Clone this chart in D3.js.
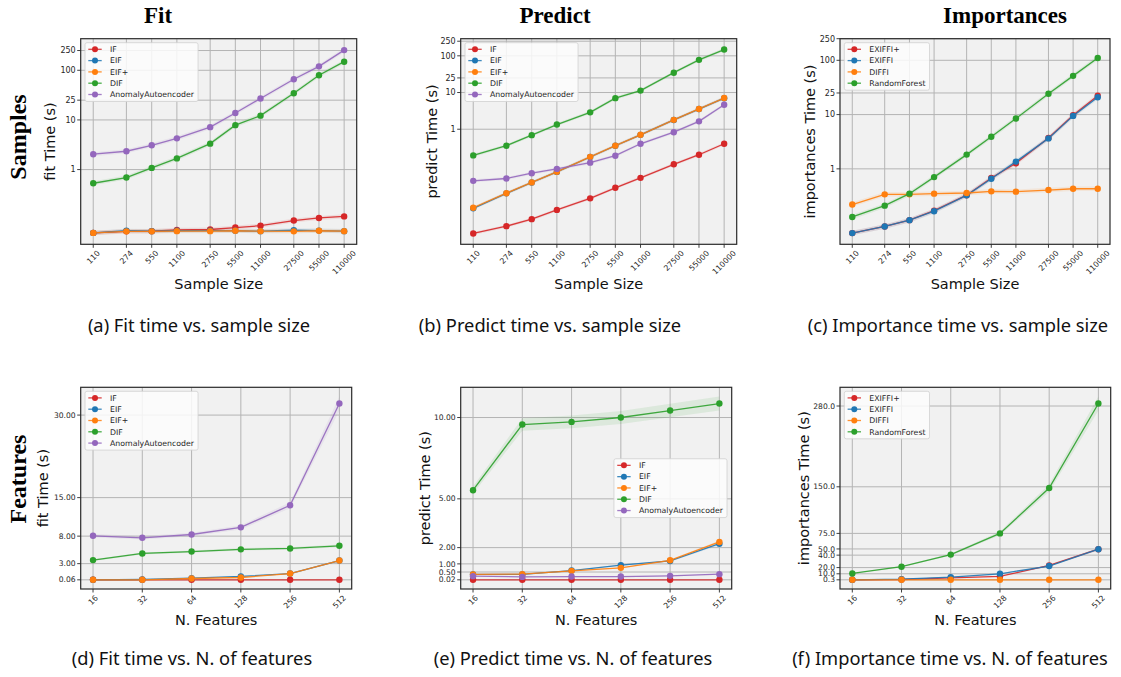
<!DOCTYPE html>
<html><head><meta charset="utf-8">
<script src="https://cdn.jsdelivr.net/npm/d3@7"></script>
<style>body{margin:0;background:#fff} svg{display:block}</style>
</head><body><svg id="c" width="1121" height="677"></svg>
<script>
// ---------------- DATA ----------------
const sampleSizes = [110, 274, 550, 1100, 2750, 5500, 11000, 27500, 55000, 110000];
const featureCounts = [16, 32, 64, 128, 256, 512];
const detectorNames = ["IF", "EIF", "EIF+", "DIF", "AnomalyAutoencoder"];
const importanceNames = ["EXIFFI+", "EXIFFI", "DIFFI", "RandomForest"];

// (a) fit time vs sample size
const fitSamplesIF      = [0.053, 0.057, 0.0575, 0.061, 0.062, 0.068, 0.074, 0.094, 0.106, 0.114];
const fitSamplesEIF     = [0.053, 0.0585, 0.0575, 0.0585, 0.059, 0.0585, 0.0575, 0.060, 0.059, 0.0575];
const fitSamplesEIFplus = [0.053, 0.057, 0.057, 0.0575, 0.0575, 0.0585, 0.0575, 0.057, 0.0585, 0.0575];
const fitSamplesDIF     = [0.53, 0.69, 1.08, 1.68, 3.33, 7.85, 12.2, 34.4, 79.5, 149];
const fitSamplesAE      = [2.04, 2.34, 3.08, 4.25, 7.16, 13.8, 27, 66, 120, 255];

// (b) predict time vs sample size
const predSamplesIF      = [0.00145, 0.00229, 0.00355, 0.00634, 0.0131, 0.0254, 0.0474, 0.111, 0.202, 0.402];
const predSamplesEIF     = [0.0070, 0.0179, 0.0354, 0.0689, 0.175, 0.355, 0.703, 1.79, 3.55, 7.03];
const predSamplesEIFplus = [0.00725, 0.0181, 0.0356, 0.0692, 0.177, 0.357, 0.706, 1.80, 3.57, 7.08];
const predSamplesDIF     = [0.194, 0.355, 0.689, 1.34, 2.88, 7.03, 11.3, 34.7, 77.6, 148];
const predSamplesAE      = [0.0393, 0.0455, 0.0633, 0.083, 0.123, 0.19, 0.402, 0.83, 1.64, 4.64];

// (c) importance time vs sample size
const impSamplesEXIFFIplus = [0.0656, 0.0869, 0.1135, 0.170, 0.327, 0.68, 1.27, 3.70, 9.7, 22.3];
const impSamplesEXIFFI     = [0.0656, 0.0869, 0.1135, 0.166, 0.325, 0.656, 1.36, 3.64, 9.46, 20.8];
const impSamplesDIFFI      = [0.22, 0.339, 0.339, 0.349, 0.359, 0.385, 0.38, 0.407, 0.43, 0.43];
const impSamplesRF         = [0.13, 0.21, 0.349, 0.705, 1.83, 3.9, 8.45, 24.2, 51.7, 110];

// (d) fit time vs n. features
const fitFeatIF      = [0.06, 0.06, 0.06, 0.06, 0.06, 0.06];
const fitFeatEIF     = [0.06, 0.12, 0.36, 0.67, 1.2, 3.57];
const fitFeatEIFplus = [0.06, 0.06, 0.3, 0.48, 1.2, 3.57];
const fitFeatDIF     = [3.64, 4.85, 5.2, 5.6, 5.76, 6.24];
const fitFeatAE      = [8.06, 7.7, 8.3, 9.6, 13.6, 32.1];

// (e) predict time vs n. features
const predFeatIF      = [0.02, 0.02, 0.02, 0.02, 0.02, 0.02];
const predFeatEIF     = [0.35, 0.35, 0.59, 0.92, 1.18, 2.24];
const predFeatEIFplus = [0.35, 0.37, 0.57, 0.755, 1.22, 2.35];
const predFeatDIF     = [5.53, 9.57, 9.73, 10.0, 10.43, 10.86];
const predFeatAE      = [0.245, 0.2, 0.22, 0.22, 0.265, 0.37];

// (f) importance time vs n. features
const impFeatEXIFFIplus = [0.3, 0.8, 3.5, 5.7, 23.6, 49.6];
const impFeatEXIFFI     = [0.3, 1.4, 4.6, 10, 22.5, 49.6];
const impFeatDIFFI      = [0.3, 0.3, 0.3, 0.3, 0.3, 0.3];
const impFeatRF         = [10.6, 21.4, 40.9, 75, 148, 284];

// tick labels
const logTimeTicks  = [1, 10, 25, 100, 250];
const fitFeatTicks  = [0.06, 3, 8, 15, 30];
const predFeatTicks = [0.02, 0.5, 1, 2, 5, 10];
const impFeatTicks  = [0.3, 10, 20, 40, 50, 75, 150, 280];

const columnTitles = ["Fit", "Predict", "Importances"];
const rowTitles = ["Samples", "Features"];
const captions = [
  "(a) Fit time vs. sample size", "(b) Predict time vs. sample size", "(c) Importance time vs. sample size",
  "(d) Fit time vs. N. of features", "(e) Predict time vs. N. of features", "(f) Importance time vs. N. of features"
];

// ---------------- STYLE / LAYOUT ----------------
const detColors = ["#d62728", "#1f77b4", "#ff7f0e", "#2ca02c", "#9467bd"];
const impColors = ["#d62728", "#1f77b4", "#ff7f0e", "#2ca02c"];

const panels = [
  {rect:[80.7, 38.7, 356.7, 244.3], x:sampleSizes, names:detectorNames, colors:detColors,
   series:[fitSamplesIF, fitSamplesEIF, fitSamplesEIFplus, fitSamplesDIF, fitSamplesAE],
   yLog:true, yTicks:logTimeTicks, yFmt:d=>String(d), ylabel:"fit Time (s)", yLabelOff:30.5,
   xlabel:"Sample Size", legend:"ul", caption:0, capX:199},
  {rect:[460.7, 38.7, 736.7, 244.3], x:sampleSizes, names:detectorNames, colors:detColors,
   series:[predSamplesIF, predSamplesEIF, predSamplesEIFplus, predSamplesDIF, predSamplesAE],
   yLog:true, yTicks:logTimeTicks, yFmt:d=>String(d), ylabel:"predict Time (s)", yLabelOff:29,
   xlabel:"Sample Size", legend:"ul", caption:1, capX:550},
  {rect:[840, 38.7, 1110, 244.3], x:sampleSizes, names:importanceNames, colors:impColors,
   series:[impSamplesEXIFFIplus, impSamplesEXIFFI, impSamplesDIFFI, impSamplesRF],
   yLog:true, yTicks:logTimeTicks, yFmt:d=>String(d), ylabel:"importances Time (s)", yLabelOff:30,
   xlabel:"Sample Size", legend:"ul", caption:2, capX:958},
  {rect:[80.7, 387.3, 351.7, 589], x:featureCounts, names:detectorNames, colors:detColors,
   series:[fitFeatIF, fitFeatEIF, fitFeatEIFplus, fitFeatDIF, fitFeatAE],
   yLog:false, yTicks:fitFeatTicks, yFmt:d3.format(".2f"), ylabel:"fit Time (s)", yLabelOff:37.7,
   xlabel:"N. Features", legend:"ul", caption:3, capX:192},
  {rect:[460.7, 387.3, 731.7, 589], x:featureCounts, names:detectorNames, colors:detColors,
   series:[predFeatIF, predFeatEIF, predFeatEIFplus, predFeatDIF, predFeatAE],
   yLog:false, yTicks:predFeatTicks, yFmt:d3.format(".2f"), ylabel:"predict Time (s)", yLabelOff:35.7,
   xlabel:"N. Features", legend:"cr", caption:4, capX:573},
  {rect:[840, 387.3, 1110.7, 589], x:featureCounts, names:importanceNames, colors:impColors,
   series:[impFeatEXIFFIplus, impFeatEXIFFI, impFeatDIFFI, impFeatRF],
   yLog:false, yTicks:impFeatTicks, yFmt:d3.format(".1f"), ylabel:"importances Time (s)", yLabelOff:36.5,
   xlabel:"N. Features", legend:"ul", caption:5, capX:950}
];

const svg = d3.select("#c");
const SANS = "'DejaVu Sans', sans-serif";

panels.forEach((p, pi) => {
  const [L, T, R, B] = p.rect;
  const top = pi < 3;
  const g = svg.append("g");

  // x scale (log, 5% margins in log space)
  const lx0 = Math.log10(d3.min(p.x)), lx1 = Math.log10(d3.max(p.x));
  const mx = (lx1 - lx0) * 0.05;
  const x = d3.scaleLog().domain([10 ** (lx0 - mx), 10 ** (lx1 + mx)]).range([L, R]);

  // bands
  const lowF = v => p.yLog ? v / 1.1 : v * 0.96;
  const upF = v => p.yLog ? v * 1.1 : v * 1.04;
  let all = [];
  p.series.forEach(s => s.forEach(v => { all.push(lowF(v)); all.push(upF(v)); }));
  let y;
  if (p.yLog) {
    let lo = Math.log10(d3.min(all)), hi = Math.log10(d3.max(all));
    const m = (hi - lo) * 0.05; lo -= m; hi += m;
    hi = Math.max(hi, Math.log10(d3.max(p.yTicks)));
    y = d3.scaleLog().domain([10 ** lo, 10 ** hi]).range([B, T]);
  } else {
    let lo = d3.min(all), hi = d3.max(all);
    const m = (hi - lo) * 0.05; lo -= m; hi += m;
    hi = Math.max(hi, d3.max(p.yTicks));
    y = d3.scaleLinear().domain([lo, hi]).range([B, T]);
  }

  // background
  g.append("rect").attr("x", L).attr("y", T).attr("width", R - L).attr("height", B - T).attr("fill", "#f1f1f1");
  // grid
  g.selectAll(".vg").data(p.x).join("line")
    .attr("x1", d => x(d)).attr("x2", d => x(d)).attr("y1", T).attr("y2", B)
    .attr("stroke", "#b4b4b4").attr("stroke-width", 1);
  g.selectAll(".hg").data(p.yTicks).join("line")
    .attr("x1", L).attr("x2", R).attr("y1", d => y(d)).attr("y2", d => y(d))
    .attr("stroke", "#b4b4b4").attr("stroke-width", 1);

  // bands + lines + markers
  p.series.forEach((s, si) => {
    const pts = s.map((v, i) => [p.x[i], v]);
    const area = d3.area().x(d => x(d[0])).y0(d => y(lowF(d[1]))).y1(d => y(upF(d[1])));
    g.append("path").attr("d", area(pts)).attr("fill", p.colors[si]).attr("fill-opacity", 0.1);
  });
  p.series.forEach((s, si) => {
    const pts = s.map((v, i) => [p.x[i], v]);
    const line = d3.line().x(d => x(d[0])).y(d => y(d[1]));
    g.append("path").attr("d", line(pts)).attr("fill", "none")
      .attr("stroke", p.colors[si]).attr("stroke-width", 1.3).attr("stroke-opacity", 0.9);
    g.selectAll(null).data(pts).join("circle")
      .attr("cx", d => x(d[0])).attr("cy", d => y(d[1])).attr("r", 3.2).attr("fill", p.colors[si]);
  });

  // frame
  g.append("rect").attr("x", L).attr("y", T).attr("width", R - L).attr("height", B - T)
    .attr("fill", "none").attr("stroke", "#2a2a2a").attr("stroke-width", 1.2);

  // y ticks
  const yfs = top ? 8 : 7.6;
  p.yTicks.forEach(t => {
    g.append("line").attr("x1", L - 3.5).attr("x2", L).attr("y1", y(t)).attr("y2", y(t))
      .attr("stroke", "#2a2a2a").attr("stroke-width", 0.9);
    g.append("text").attr("x", L - 5).attr("y", y(t)).attr("dy", "0.35em")
      .attr("text-anchor", "end").attr("font-family", SANS).attr("font-size", yfs)
      .attr("fill", "#262626").text(p.yFmt(t));
  });
  // x ticks (rotated 45)
  p.x.forEach(t => {
    g.append("line").attr("x1", x(t)).attr("x2", x(t)).attr("y1", B).attr("y2", B + 3.5)
      .attr("stroke", "#2a2a2a").attr("stroke-width", 0.9);
    const tx = g.append("text").attr("text-anchor", "middle").attr("font-family", SANS)
      .attr("font-size", 7.8).attr("fill", "#262626").attr("dy", "0.35em").text(String(t));
    const len = tx.node().getComputedTextLength();
    const half = (len + 6) * 0.7071 / 2;
    tx.attr("transform", `translate(${x(t)},${B + 5.5 + half}) rotate(-45)`);
  });

  // axis labels
  g.append("text").attr("x", (L + R) / 2).attr("y", top ? 289 : 625).attr("text-anchor", "middle")
    .attr("font-family", SANS).attr("font-size", 14.5).attr("fill", "#111").text(p.xlabel);
  g.append("text").attr("transform", `translate(${L - p.yLabelOff},${(T + B) / 2}) rotate(-90)`)
    .attr("text-anchor", "middle").attr("dy", "0.35em")
    .attr("font-family", SANS).attr("font-size", 14.5).attr("fill", "#111").text(p.ylabel);

  // legend
  const lfs = 7.8, rowH = 11.3;
  const lg = g.append("g");
  const box = lg.append("rect").attr("rx", 2).attr("fill", "#fdfdfd").attr("fill-opacity", 0.85)
    .attr("stroke", "#d0d0d0").attr("stroke-width", 0.8);
  let maxW = 0;
  p.names.forEach((n, i) => {
    const cy = 6.6 + i * rowH;
    lg.append("line").attr("x1", 3.3).attr("x2", 16.7).attr("y1", cy).attr("y2", cy)
      .attr("stroke", p.colors[i]).attr("stroke-width", 1.3).attr("stroke-opacity", 0.85);
    lg.append("circle").attr("cx", 10).attr("cy", cy).attr("r", 3).attr("fill", p.colors[i]);
    const t = lg.append("text").attr("x", 25).attr("y", cy).attr("dy", "0.35em")
      .attr("font-family", SANS).attr("font-size", lfs).attr("fill", "#262626").text(n);
    maxW = Math.max(maxW, t.node().getComputedTextLength());
  });
  const bw = 25 + maxW + 4, bh = 6.6 + (p.names.length - 1) * rowH + 7;
  box.attr("width", bw).attr("height", bh);
  let lx, ly;
  if (p.legend === "ul") { lx = L + 4.3; ly = T + 4; }
  else { lx = R - 4.7 - bw; ly = (T + B) / 2 - bh / 2; }
  lg.attr("transform", `translate(${lx},${ly})`);

  // caption
  svg.append("text").attr("x", p.capX).attr("y", top ? 332 : 665).attr("text-anchor", "middle")
    .attr("font-family", "'Noto Sans', sans-serif").attr("font-size", 18.3).attr("fill", "#111")
    .text(captions[p.caption]);
});

// column & row titles
const colX = [158, 555, 1005];
columnTitles.forEach((t, i) => {
  svg.append("text").attr("x", colX[i]).attr("y", 23).attr("text-anchor", "middle")
    .attr("font-family", "'Liberation Serif', serif").attr("font-weight", "bold").attr("font-size", 23)
    .attr("fill", "#000").text(t);
});
const rowY = [137, 479];
rowTitles.forEach((t, i) => {
  svg.append("text").attr("transform", `translate(26,${rowY[i]}) rotate(-90)`).attr("text-anchor", "middle")
    .attr("font-family", "'Liberation Serif', serif").attr("font-weight", "bold").attr("font-size", 24)
    .attr("fill", "#000").text(t);
});
</script>
</body></html>
